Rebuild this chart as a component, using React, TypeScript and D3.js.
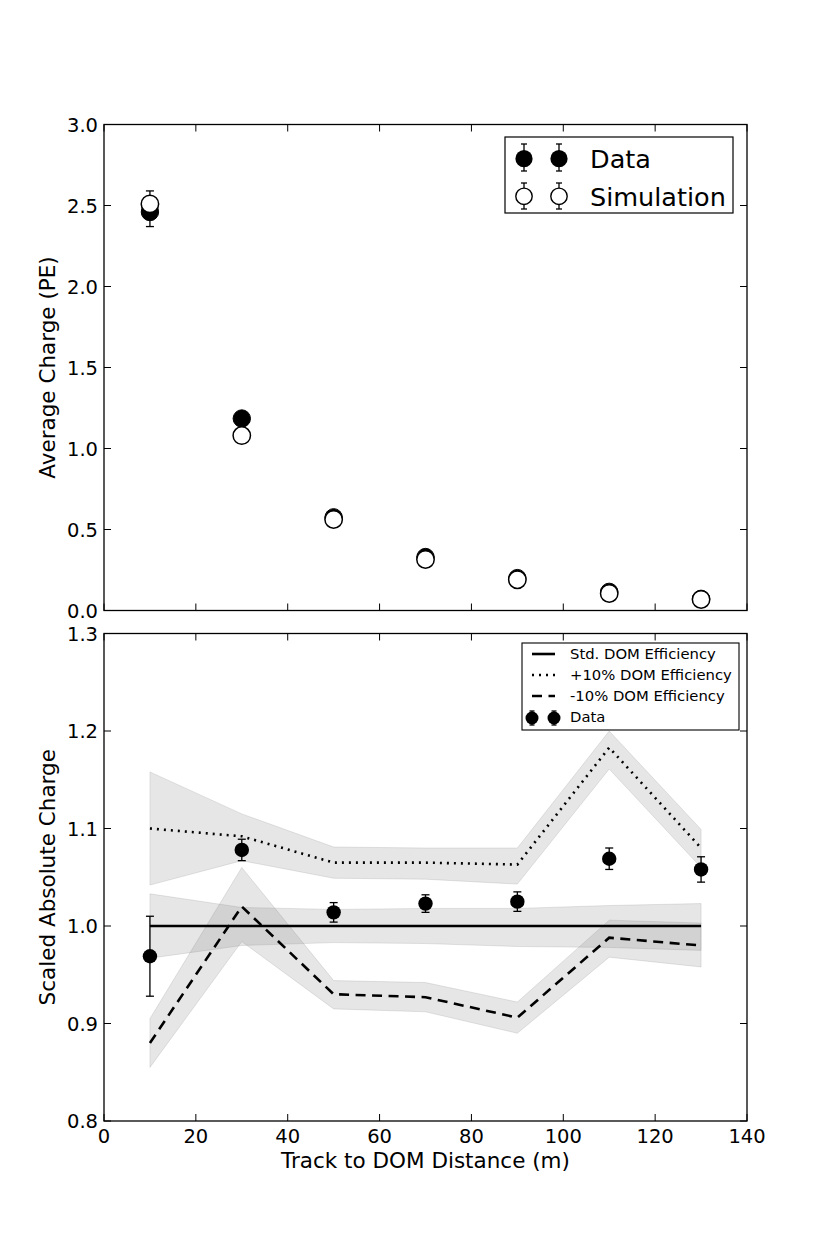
import React from "react";
import * as d3 from "d3";

const distances = [10, 30, 50, 70, 90, 110, 130];
const dataCharge = [2.46, 1.185, 0.575, 0.33, 0.2, 0.115, 0.072];
const dataChargeErr = [0.09, 0.02, 0.01, 0.008, 0.006, 0.004, 0.003];
const simCharge = [2.51, 1.08, 0.562, 0.315, 0.19, 0.105, 0.068];
const simChargeErr = [0.08, 0.015, 0.008, 0.005, 0.004, 0.003, 0.002];

const dataScaled = [0.969, 1.078, 1.014, 1.023, 1.025, 1.069, 1.058];
const dataScaledErr = [0.041, 0.011, 0.01, 0.009, 0.01, 0.011, 0.013];
const stdEff = [1, 1, 1, 1, 1, 1, 1];
const stdLow = [0.967, 0.98, 0.983, 0.982, 0.979, 0.978, 0.975];
const stdHigh = [1.033, 1.019, 1.017, 1.018, 1.018, 1.021, 1.023];
const plus10 = [1.1, 1.092, 1.065, 1.065, 1.063, 1.183, 1.08];
const plus10Low = [1.042, 1.067, 1.049, 1.048, 1.043, 1.161, 1.06];
const plus10High = [1.158, 1.115, 1.081, 1.08, 1.08, 1.2, 1.099];
const minus10 = [0.88, 1.02, 0.93, 0.927, 0.906, 0.988, 0.98];
const minus10Low = [0.855, 0.984, 0.915, 0.912, 0.89, 0.968, 0.958];
const minus10High = [0.905, 1.06, 0.944, 0.942, 0.922, 1.006, 1.003];

const xTicks = [0, 20, 40, 60, 80, 100, 120, 140];
const topYTicks = [0, 0.5, 1.0, 1.5, 2.0, 2.5, 3.0];
const botYTicks = [0.8, 0.9, 1.0, 1.1, 1.2, 1.3];

const FONT = "DejaVu Sans";
const L = 104, R = 747;
const T1 = 124.5, B1 = 610.5;
const T2 = 633.5, B2 = 1121;

const x = d3.scaleLinear().domain([0, 140]).range([L, R]);
const y1 = d3.scaleLinear().domain([0, 3]).range([B1, T1]);
const y2 = d3.scaleLinear().domain([0.8, 1.3]).range([B2, T2]);

function Frame({ top, bottom, y, yTicks, showX }: any) {
  const tl = 7;
  return (
    <g>
      {xTicks.map((t) => (
        <g key={"x" + t}>
          <line x1={x(t)} x2={x(t)} y1={bottom} y2={bottom - tl} stroke="#000" strokeWidth={1} />
          <line x1={x(t)} x2={x(t)} y1={top} y2={top + tl} stroke="#000" strokeWidth={1} />
          {showX && (
            <text x={x(t)} y={bottom + 22} textAnchor="middle" fontSize={19.5} fontFamily={FONT}>
              {t}
            </text>
          )}
        </g>
      ))}
      {yTicks.map((t: number) => (
        <g key={"y" + t}>
          <line x1={L} x2={L + tl} y1={y(t)} y2={y(t)} stroke="#000" strokeWidth={1} />
          <line x1={R} x2={R - tl} y1={y(t)} y2={y(t)} stroke="#000" strokeWidth={1} />
          <text x={L - 6} y={y(t)} dy="0.36em" textAnchor="end" fontSize={19.5} fontFamily={FONT}>
            {t.toFixed(1)}
          </text>
        </g>
      ))}
      <rect x={L} y={top} width={R - L} height={bottom - top} fill="none" stroke="#000" strokeWidth={1.3} />
    </g>
  );
}

function ErrBar({ cx, y0, y1v, cap }: any) {
  return (
    <g stroke="#000" strokeWidth={1.3}>
      <line x1={cx} x2={cx} y1={y0} y2={y1v} />
      <line x1={cx - cap} x2={cx + cap} y1={y0} y2={y0} />
      <line x1={cx - cap} x2={cx + cap} y1={y1v} y2={y1v} />
    </g>
  );
}

export default function App() {
  const lineGen = (vals: number[]) =>
    d3.line<number>().x((_, i) => x(distances[i])).y((v) => y2(v))(vals) || "";
  const areaGen = (lo: number[], hi: number[]) =>
    d3
      .area<number>()
      .x((_, i) => x(distances[i]))
      .y0((_, i) => y2(lo[i]))
      .y1((_, i) => y2(hi[i]))(distances) || "";

  const bands = [
    [stdLow, stdHigh],
    [plus10Low, plus10High],
    [minus10Low, minus10High],
  ];

  return (
    <svg width={830} height={1246} style={{ position: "absolute", left: 0, top: 0 }} fontFamily={FONT}>
      <rect x={0} y={0} width={830} height={1246} fill="#fff" />

      {/* Top panel */}
      <g>
        {distances.map((d, i) => (
          <g key={"dc" + i}>
            <ErrBar cx={x(d)} y0={y1(dataCharge[i] + dataChargeErr[i])} y1v={y1(dataCharge[i] - dataChargeErr[i])} cap={4} />
            <circle cx={x(d)} cy={y1(dataCharge[i])} r={8.7} fill="#000" stroke="#000" strokeWidth={1} />
          </g>
        ))}
        {distances.map((d, i) => (
          <g key={"sc" + i}>
            <ErrBar cx={x(d)} y0={y1(simCharge[i] + simChargeErr[i])} y1v={y1(simCharge[i] - simChargeErr[i])} cap={4} />
            <circle cx={x(d)} cy={y1(simCharge[i])} r={8.7} fill="#fff" stroke="#000" strokeWidth={1.5} />
          </g>
        ))}
      </g>
      <Frame top={T1} bottom={B1} y={y1} yTicks={topYTicks} showX={false} />

      {/* Top legend */}
      <g>
        <rect x={505} y={137} width={228} height={76} fill="#fff" stroke="#000" strokeWidth={1.2} />
        {[524, 559].map((cx) => (
          <g key={"ld" + cx}>
            <ErrBar cx={cx} y0={144} y1v={171} cap={3} />
            <circle cx={cx} cy={158.7} r={8.6} fill="#000" />
            <ErrBar cx={cx} y0={183} y1v={209} cap={3} />
            <circle cx={cx} cy={196.3} r={8.2} fill="#fff" stroke="#000" strokeWidth={1.4} />
          </g>
        ))}
        <text x={590} y={159} dy="0.36em" fontSize={25.5}>Data</text>
        <text x={590} y={196.5} dy="0.36em" fontSize={25.5}>Simulation</text>
      </g>

      {/* Bottom panel */}
      <g>
        {bands.map(([lo, hi], k) => (
          <path key={"b" + k} d={areaGen(lo, hi)} fill="gray" fillOpacity={0.2} stroke="gray" strokeOpacity={0.2} strokeWidth={1} />
        ))}
        <path d={lineGen(stdEff)} fill="none" stroke="#000" strokeWidth={2.6} />
        <path d={lineGen(plus10)} fill="none" stroke="#000" strokeWidth={2.6} strokeDasharray="2,5" />
        <path d={lineGen(minus10)} fill="none" stroke="#000" strokeWidth={2.6} strokeDasharray="10,6.5" />
        {distances.map((d, i) => (
          <g key={"ds" + i}>
            <ErrBar cx={x(d)} y0={y2(dataScaled[i] + dataScaledErr[i])} y1v={y2(dataScaled[i] - dataScaledErr[i])} cap={4} />
            <circle cx={x(d)} cy={y2(dataScaled[i])} r={7.2} fill="#000" />
          </g>
        ))}
      </g>
      <Frame top={T2} bottom={B2} y={y2} yTicks={botYTicks} showX={true} />

      {/* Bottom legend */}
      <g fontSize={14.8}>
        <rect x={522} y={643} width={217} height={87} fill="#fff" stroke="#000" strokeWidth={1.1} />
        <line x1={532} x2={555} y1={654} y2={654} stroke="#000" strokeWidth={2.6} />
        <line x1={532} x2={555} y1={675} y2={675} stroke="#000" strokeWidth={2.6} strokeDasharray="2,5" />
        <line x1={532} x2={555} y1={696} y2={696} stroke="#000" strokeWidth={2.6} strokeDasharray="10,6.5" />
        {[532, 554].map((cx) => (
          <g key={"bl" + cx}>
            <ErrBar cx={cx} y0={711} y1v={725} cap={2.5} />
            <circle cx={cx} cy={718} r={6.5} fill="#000" />
          </g>
        ))}
        <text x={570} y={654} dy="0.36em">Std. DOM Efficiency</text>
        <text x={570} y={675} dy="0.36em">+10% DOM Efficiency</text>
        <text x={570} y={696} dy="0.36em">-10% DOM Efficiency</text>
        <text x={570} y={717} dy="0.36em">Data</text>
      </g>

      {/* Axis labels */}
      <text transform={`translate(55, ${(T1 + B1) / 2}) rotate(-90)`} textAnchor="middle" fontSize={21.5}>
        Average Charge (PE)
      </text>
      <text transform={`translate(55, ${(T2 + B2) / 2}) rotate(-90)`} textAnchor="middle" fontSize={21.5}>
        Scaled Absolute Charge
      </text>
      <text x={(L + R) / 2} y={1168} textAnchor="middle" fontSize={21.5}>
        Track to DOM Distance (m)
      </text>
    </svg>
  );
}
